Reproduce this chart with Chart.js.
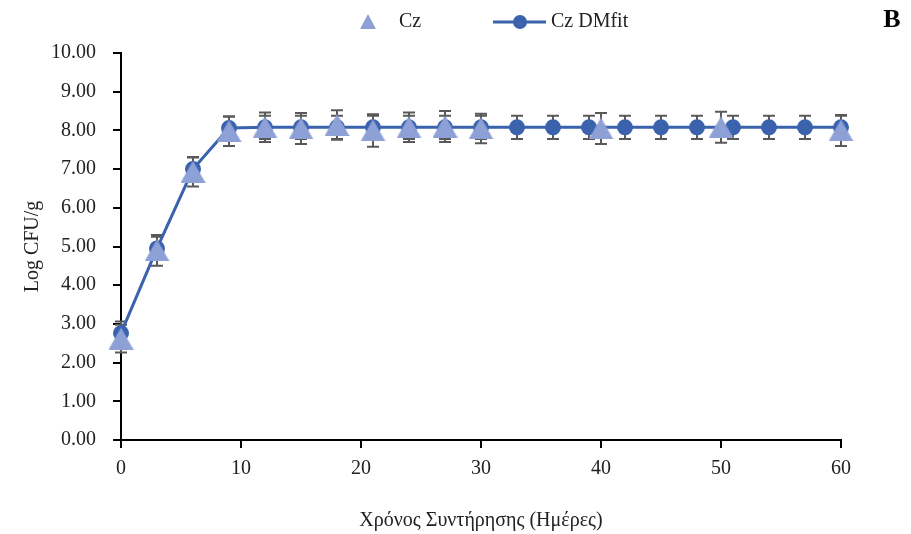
<!DOCTYPE html>
<html>
<head>
<meta charset="utf-8">
<script src="https://cdn.jsdelivr.net/npm/chart.js@4"></script>
<style>
  body { margin: 0; background: #fff; }
  #wrap { width: 911px; height: 534px; }
</style>
</head>
<body>
<div id="wrap"><canvas id="growthChart" width="911" height="534"></canvas></div>
<script>
// measured counts (triangles) and the DMfit curve (line + circles)
var obsDays   = [0, 3, 6, 9, 12, 15, 18, 21, 24, 27, 30, 40, 50, 60];
var obsValues = [2.62, 4.9, 6.93, 7.98, 8.08, 8.05, 8.14, 8.0, 8.08, 8.1, 8.05, 8.05, 8.08, 8.0];
var obsErr    = [0.36, 0.4, 0.38, 0.38, 0.38, 0.4, 0.38, 0.42, 0.38, 0.4, 0.38, 0.4, 0.4, 0.4];

var fitDays   = [0, 3, 6, 9, 12, 15, 18, 21, 24, 27, 30, 33, 36, 39, 42, 45, 48, 51, 54, 57, 60];
var fitValues = [2.76, 4.95, 7.0, 8.06, 8.08, 8.08, 8.08, 8.08, 8.08, 8.08, 8.08, 8.08, 8.08, 8.08, 8.08, 8.08, 8.08, 8.08, 8.08, 8.08, 8.08];
var fitErr    = [0.3, 0.3, 0.3, 0.3, 0.3, 0.3, 0.3, 0.3, 0.3, 0.3, 0.3, 0.3, 0.3, 0.3, 0.3, 0.3, 0.3, 0.3, 0.3, 0.3, 0.3];

var yTicks = [0, 1, 2, 3, 4, 5, 6, 7, 8, 9, 10];

var obsColor = '#8EA1D6';
var fitColor = '#3A62AD';
var errColor = '#595959';
var serif = "'Liberation Serif', 'Times New Roman', serif";

function toPoints(xs, ys) {
  return xs.map(function(x, i) { return { x: x, y: ys[i] }; });
}

// triangle marker centred on its box, like the spreadsheet markers
function triangleMarker(w, h, color) {
  var c = document.createElement('canvas');
  c.width = w; c.height = h;
  var g = c.getContext('2d');
  g.fillStyle = color;
  g.beginPath();
  g.moveTo(w / 2, 0);
  g.lineTo(w, h);
  g.lineTo(0, h);
  g.closePath();
  g.fill();
  return c;
}
var triImg = triangleMarker(25, 22, obsColor);

// vertical error bars with caps, drawn under the markers
var errorBars = {
  id: 'errorBars',
  beforeDatasetsDraw: function(chart) {
    var ctx = chart.ctx;
    var yScale = chart.scales.y;
    ctx.save();
    ctx.strokeStyle = errColor;
    ctx.lineWidth = 2;
    chart.data.datasets.forEach(function(ds, di) {
      var meta = chart.getDatasetMeta(di);
      meta.data.forEach(function(pt, i) {
        var v = ds.data[i].y, e = ds.errors[i];
        var top = yScale.getPixelForValue(v + e);
        var bot = yScale.getPixelForValue(v - e);
        ctx.beginPath();
        ctx.moveTo(pt.x, top); ctx.lineTo(pt.x, bot);
        ctx.moveTo(pt.x - 6, top); ctx.lineTo(pt.x + 6, top);
        ctx.moveTo(pt.x - 6, bot); ctx.lineTo(pt.x + 6, bot);
        ctx.stroke();
      });
    });
    ctx.restore();
  }
};

// legend across the top and the panel letter
var topLegend = {
  id: 'topLegend',
  afterDraw: function(chart) {
    var ctx = chart.ctx;
    var y = 22;
    ctx.save();
    ctx.fillStyle = obsColor;
    ctx.beginPath();
    ctx.moveTo(368, y - 8);
    ctx.lineTo(376, y + 7);
    ctx.lineTo(360, y + 7);
    ctx.closePath();
    ctx.fill();

    ctx.strokeStyle = fitColor;
    ctx.lineWidth = 3;
    ctx.beginPath();
    ctx.moveTo(493, y); ctx.lineTo(546, y);
    ctx.stroke();
    ctx.fillStyle = fitColor;
    ctx.beginPath();
    ctx.arc(520, y, 7, 0, Math.PI * 2);
    ctx.fill();

    ctx.fillStyle = '#222';
    ctx.font = '20px ' + serif;
    ctx.textBaseline = 'middle';
    ctx.textAlign = 'left';
    ctx.fillText('Cz', 399, y);
    ctx.fillText('Cz DMfit', 551, y);

    ctx.fillStyle = '#000';
    ctx.font = 'bold 26px ' + serif;
    ctx.textAlign = 'center';
    ctx.fillText('B', 892, 20);
    ctx.restore();
  }
};

new Chart(document.getElementById('growthChart'), {
  type: 'scatter',
  data: {
    datasets: [{
      label: 'Cz',
      data: toPoints(obsDays, obsValues),
      errors: obsErr,
      order: 0,
      clip: false,
      showLine: false,
      pointStyle: triImg,
      pointRadius: 12
    }, {
      label: 'Cz DMfit',
      data: toPoints(fitDays, fitValues),
      errors: fitErr,
      order: 1,
      clip: false,
      showLine: true,
      borderColor: fitColor,
      borderWidth: 3,
      pointStyle: 'circle',
      pointRadius: 8,
      pointBackgroundColor: fitColor,
      pointBorderWidth: 0,
      tension: 0
    }]
  },
  options: {
    responsive: false,
    animation: false,
    layout: { padding: { top: 53, right: 70, bottom: 0, left: 0 } },
    plugins: {
      legend: { display: false },
      tooltip: { enabled: false }
    },
    scales: {
      x: {
        type: 'linear',
        min: 0, max: 60,
        ticks: { stepSize: 10, color: '#222', padding: 9, font: { family: serif, size: 20 } },
        grid: { drawOnChartArea: false, drawTicks: true, tickLength: 8, color: '#000', lineWidth: 2 },
        border: { color: '#000', width: 2 },
        title: {
          display: true,
          text: 'Χρόνος Συντήρησης (Ημέρες)',
          color: '#222',
          font: { family: serif, size: 20 },
          padding: { top: 0, bottom: 1 }
        },
        afterFit: function(scale) { scale.height = 94; }
      },
      y: {
        min: 0, max: 10,
        afterBuildTicks: function(scale) {
          scale.ticks = yTicks.map(function(v) { return { value: v }; });
        },
        ticks: {
          color: '#222',
          padding: 17,
          font: { family: serif, size: 20 },
          callback: function(v) { return Number(v).toFixed(2); }
        },
        grid: { drawOnChartArea: false, drawTicks: true, tickLength: 8, color: '#000', lineWidth: 2 },
        border: { color: '#000', width: 2 },
        title: {
          display: true,
          text: 'Log CFU/g',
          color: '#222',
          font: { family: serif, size: 20 },
          padding: { top: 21, bottom: 0 }
        },
        afterFit: function(scale) { scale.width = 121; }
      }
    }
  },
  plugins: [errorBars, topLegend]
});
</script>
</body>
</html>
